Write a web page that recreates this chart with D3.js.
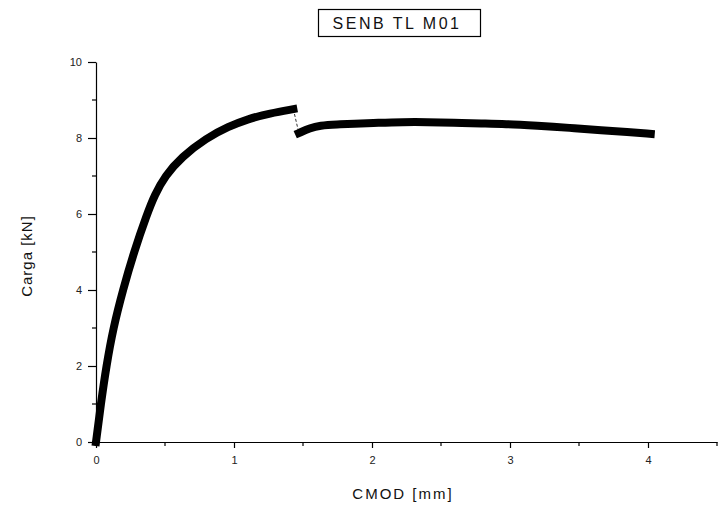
<!DOCTYPE html>
<html><head><meta charset="utf-8">
<script src="https://cdn.jsdelivr.net/npm/d3@7"></script>
<style>body{margin:0;background:#fff}svg{display:block}text{font-family:"Liberation Sans",Arial,sans-serif}</style>
</head><body>
<script>
const titleText = "SENB TL M01";
const xLabel = "CMOD [mm]";
const yLabel = "Carga [kN]";
const xTicks = [0, 1, 2, 3, 4];
const yTicks = [0, 2, 4, 6, 8, 10];
// loading branch up to the peak
const cmodPre = [0, 0.035, 0.075, 0.125, 0.195, 0.275, 0.37, 0.425, 0.5, 0.62, 0.8, 0.96, 1.1, 1.26, 1.43];
const loadPre = [0, 1, 2, 3, 4, 5, 6, 6.5, 7, 7.5, 8, 8.3, 8.5, 8.65, 8.76];
// after the pop-in drop
const cmodPost = [1.47, 1.55, 1.62, 1.75, 1.86, 2.05, 2.22, 2.4, 2.59, 2.8, 2.96, 3.2, 3.43, 3.67, 3.85, 4.02];
const loadPost = [8.13, 8.26, 8.33, 8.36, 8.37, 8.4, 8.42, 8.42, 8.4, 8.38, 8.37, 8.32, 8.27, 8.2, 8.16, 8.11];

const W = 727, H = 509;
const svg = d3.select("body").append("svg").attr("width", W).attr("height", H);
const x = d3.scaleLinear().domain([0, 4.5]).range([96, 717]);
const y = d3.scaleLinear().domain([0, 10]).range([442, 62]);

// axes
const xAxis = d3.axisBottom(x).tickValues(xTicks).tickSize(6).tickSizeOuter(0).tickFormat(d3.format("d"));
const gx = svg.append("g").attr("transform", `translate(0,${y(0)})`).call(xAxis);
gx.select(".domain").attr("stroke", "#000").attr("stroke-width", 1.2);
gx.selectAll(".tick line").attr("stroke", "#000").attr("stroke-width", 1.2);
gx.selectAll(".tick text").attr("font-size", 11).attr("fill", "#222").attr("dy", "1.2em");
const xMinor = d3.range(0.5, 4.6, 1);
svg.append("g").selectAll("line").data(xMinor).join("line")
  .attr("x1", d => x(d)).attr("x2", d => x(d)).attr("y1", y(0)).attr("y2", y(0) + 4)
  .attr("stroke", "#000").attr("stroke-width", 1.2);

const yAxis = d3.axisLeft(y).tickValues(yTicks).tickSize(8).tickSizeOuter(0).tickFormat(d3.format("d"));
const gy = svg.append("g").attr("transform", `translate(${x(0)},0)`).call(yAxis);
gy.select(".domain").attr("stroke", "#000").attr("stroke-width", 1.2);
gy.selectAll(".tick line").attr("stroke", "#000").attr("stroke-width", 1.2);
gy.selectAll(".tick text").attr("font-size", 11).attr("fill", "#222").attr("x", -14);
const yMinor = d3.range(1, 10, 2);
svg.append("g").selectAll("line").data(yMinor).join("line")
  .attr("x1", x(0) - 4).attr("x2", x(0)).attr("y1", d => y(d)).attr("y2", d => y(d))
  .attr("stroke", "#000").attr("stroke-width", 1.2);

// data
const pre = cmodPre.map((c, i) => [c, loadPre[i]]);
const post = cmodPost.map((c, i) => [c, loadPost[i]]);
const line = d3.line().x(d => x(d[0])).y(d => y(d[1])).curve(d3.curveBasis);
const lineLin = d3.line().x(d => x(d[0])).y(d => y(d[1]));
svg.append("path").attr("d", lineLin([pre[pre.length - 1], post[0]]))
  .attr("fill", "none").attr("stroke", "#333").attr("stroke-width", 1).attr("stroke-dasharray", "3,2");
[pre, post].forEach(s => {
  svg.append("path").attr("d", line(s)).attr("fill", "none").attr("stroke", "#000")
    .attr("stroke-width", 8).attr("stroke-linejoin", "round").attr("stroke-linecap", "square");
});

// title box
svg.append("rect").attr("x", 318.5).attr("y", 9.5).attr("width", 162).attr("height", 27)
  .attr("fill", "#fff").attr("stroke", "#000").attr("stroke-width", 1.2);
svg.append("text").attr("x", 397).attr("y", 29).attr("text-anchor", "middle")
  .attr("font-size", 16).attr("letter-spacing", 2.5).attr("fill", "#111").text(titleText);

// axis titles
svg.append("text").attr("x", 403).attr("y", 499).attr("text-anchor", "middle")
  .attr("font-size", 15).attr("letter-spacing", 2).attr("fill", "#111").text(xLabel);
svg.append("text").attr("transform", `translate(32,256) rotate(-90)`).attr("text-anchor", "middle")
  .attr("font-size", 15).attr("letter-spacing", 1).attr("fill", "#111").text(yLabel);
</script>
</body></html>
